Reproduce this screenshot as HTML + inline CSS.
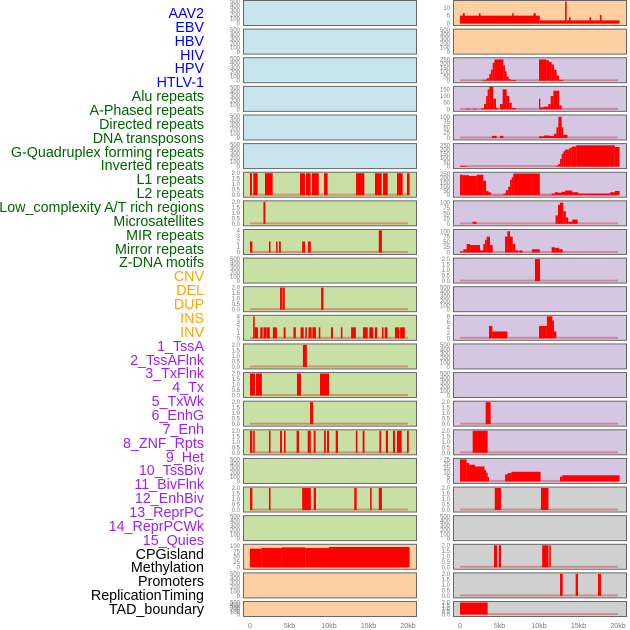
<!DOCTYPE html>
<html><head><meta charset="utf-8">
<style>
body{margin:0;background:#fff;width:630px;height:630px;overflow:hidden;font-family:"Liberation Sans",sans-serif}
#lab{position:absolute;left:0;top:0;width:204px}
.l{position:absolute;right:0;font-size:14.3px;line-height:14px;white-space:nowrap}
</style></head><body>
<div id="lab"></div>
<svg id="s" width="630" height="630" style="position:absolute;left:0;top:0"></svg>
<script>
const labels=["AAV2","EBV","HBV","HIV","HPV","HTLV-1","Alu repeats","A-Phased repeats","Directed repeats","DNA transposons","G-Quadruplex forming repeats","Inverted repeats","L1 repeats","L2 repeats","Low_complexity A/T rich regions","Microsatellites","MIR repeats","Mirror repeats","Z-DNA motifs","CNV","DEL","DUP","INS","INV","1_TssA","2_TssAFlnk","3_TxFlnk","4_Tx","5_TxWk","6_EnhG","7_Enh","8_ZNF_Rpts","9_Het","10_TssBiv","11_BivFlnk","12_EnhBiv","13_ReprPC","14_ReprPCWk","15_Quies","CPGisland","Methylation","Promoters","ReplicationTiming","TAD_boundary"];
const labelColors=["#0000ff","#0000ff","#0000ff","#0000ff","#0000ff","#0000ff","#006400","#006400","#006400","#006400","#006400","#006400","#006400","#006400","#006400","#006400","#006400","#006400","#006400","#ffa500","#ffa500","#ffa500","#ffa500","#ffa500","#a020f0","#a020f0","#a020f0","#a020f0","#a020f0","#a020f0","#a020f0","#a020f0","#a020f0","#a020f0","#a020f0","#a020f0","#a020f0","#a020f0","#a020f0","#000","#000","#000","#000","#000"];
const xTicks=[0,5,10,15,20];
const xTickLabels=["0","5kb","10kb","15kb","20kb"];
const leftBg=["b","b","b","b","b","b","g","g","g","g","g","g","g","g","g","g","g","g","g","o","o","o"];
const rightBg=["o","o","p","p","p","p","p","p","p","p","p","p","p","p","p","p","p","y","y","y","y","y"];
const leftScale=["e","e","e","e","e","e","t2","t2","t4","e","t2","t4","t2","t2","t2","t2","e","t2","e","t100","e","e"];
const rightScale=["t14","e","t250","t150","t100","t250","t250","t100","t100","t2","e","t8","e","e","t2","t2","t25","t2","e","t2","t2","t2"];
const leftData=[[],[],[],[],[],[],
[[0,0.25,2],[0.42,0.97,2],[1.9,2.87,2],[6.33,6.96,2],[7.09,7.68,2],[7.85,8.7,2],[9.37,9.83,2],[13.42,14.47,2],[15.82,16.67,2],[16.84,17.43,2],[18.61,19.33,2],[19.87,20.2,2]],
[[1.7,1.95,2]],
[[0,0.3,2],[2.4,2.6,2],[3.3,3.5,2],[3.67,3.9,2],[6.6,6.96,2],[7.34,7.7,2],[16.3,16.7,4]],
[],
[[3.8,4.05,2],[4.1,4.4,2],[9.0,9.3,2]],
[[0.4,0.6,4],[0.6,1.0,2],[1.3,1.6,2],[1.7,2.1,2],[2.15,2.5,2],[2.9,3.4,2],[4.26,4.5,2],[5.5,5.8,2],[6.4,6.8,2],[7.0,7.2,2],[7.4,7.8,2],[7.9,8.35,2],[8.7,8.9,2],[10.25,10.5,2],[11.5,11.7,2],[12.8,13.4,2],[14.3,14.9,2],[15.1,15.6,2],[15.8,16.1,2],[16.7,16.9,2],[17.05,17.4,2],[18.35,18.9,2],[19.0,19.6,2]],
[[6.7,7.2,2]],
[[0,0.63,2],[0.76,1.5,2],[5.95,6.45,2],[8.86,10.0,2]],
[[7.6,8.0,2]],
[[0,0.3,2],[0.4,0.6,2],[2.4,2.6,2],[3.8,4.05,2],[4.3,4.5,2],[5.9,6.2,2],[7.3,7.7,2],[8.06,8.3,2],[9.37,9.6,2],[9.75,10.0,2],[10.85,11.14,2],[13.4,13.6,2],[14.26,14.5,2],[16.37,16.6,2],[17.2,17.47,2],[18.1,18.35,2],[18.6,19.2,2],[19.87,20.1,2]],
[],
[[0,0.3,2],[2.4,2.6,2],[6.6,7.7,2],[8.06,8.35,2],[13.2,13.5,2],[15.2,15.4,2],[16.3,16.7,2]],
[],
[[0,1.5,88],[1.5,4,91],[4,7,94],[7,10,91],[10,20.2,96]],
[],[]];
const rightData=[
[[0,10.1,5],[0.35,0.6,6.5],[2.4,2.6,6.5],[6.6,6.8,6.5],[9.3,9.6,6.5],[10.1,20.2,2],[13.3,13.5,14],[13.8,14.0,4],[16.4,16.6,4],[17.7,17.9,5.5]],
[],
[[2.66,3.08,5],[3.08,3.38,12],[3.38,3.71,30],[3.71,3.92,80],[3.92,4.14,130],[4.14,4.35,210],[4.35,5.49,250],[5.49,5.7,180],[5.7,5.9,110],[5.9,6.16,50],[6.16,6.41,20],[6.41,7.09,8],[10.0,10.97,250],[10.97,11.26,240],[11.26,11.6,220],[11.6,11.9,190],[11.9,12.23,130],[12.23,12.53,60],[12.53,13.08,10]],
[[0.84,1.27,5],[1.6,2.1,5],[2.66,3.04,8],[3.04,3.3,40],[3.3,3.5,100],[3.5,3.71,150],[3.71,4.22,170],[4.22,4.56,80],[4.56,4.85,10],[5.06,5.4,40],[5.4,5.9,150],[5.9,6.24,100],[6.24,6.54,50],[6.54,7.05,10],[10.0,10.17,80],[10.17,10.55,15],[10.55,11.18,20],[11.18,11.48,40],[11.48,11.82,100],[11.82,12.57,140],[12.57,12.87,30]],
[[4.05,4.64,10],[5.06,5.5,10],[10.0,10.6,8],[10.6,11.26,12],[11.26,11.9,10],[11.9,12.2,20],[12.2,12.45,50],[12.45,12.87,100],[12.87,13.08,50],[13.08,13.6,15]],
[[0,0.84,8],[12.23,12.45,10],[12.45,12.66,30],[12.66,12.87,90],[12.87,13.08,150],[13.08,13.3,180],[13.3,13.85,200],[13.85,14.15,220],[14.15,14.7,235],[14.7,19.6,250],[19.6,20.2,230]],
[[0,0.34,240],[0.34,1.14,235],[1.14,2.1,225],[2.1,2.95,240],[2.95,3.3,170],[3.3,3.6,50],[3.6,3.9,35],[3.9,5.5,5],[5.5,5.8,20],[5.8,6.1,60],[6.1,6.33,100],[6.33,6.54,180],[6.54,6.75,210],[6.75,10.1,255],[10.1,11.6,5],[11.6,12.0,20],[12.0,12.4,35],[12.4,12.87,30],[12.87,13.3,40],[13.3,14.2,55],[14.2,14.98,35],[14.98,19.0,20],[19.0,19.6,35],[19.6,20.2,50]],
[[1.6,2.1,10],[12.1,12.4,40],[12.4,12.66,90],[12.66,13.08,100],[13.08,13.4,60],[13.4,13.7,30],[13.7,14.2,10],[14.2,14.9,20]],
[[0,0.42,5],[0.42,0.84,15],[0.84,1.27,40],[1.27,2.53,35],[2.53,2.95,10],[2.95,3.17,40],[3.17,3.38,60],[3.38,3.8,75],[3.8,4.14,35],[5.7,6.0,75],[6.0,6.33,100],[6.33,6.67,75],[6.67,7.0,40],[7.0,7.4,10],[7.5,7.9,10],[9.1,10.1,15],[11.6,12.0,25],[12.0,12.57,22],[12.57,13.0,15]],
[[9.49,10.13,2]],
[],
[[3.67,4.1,4.5],[4.1,6.0,2.5],[10.0,11.0,4.5],[11.0,11.7,8],[11.7,11.9,6.5],[11.9,12.2,2.5]],
[],[],
[[3.25,3.88,2]],
[[1.6,3.5,2]],
[[0,0.84,25],[0.84,1.14,21],[1.14,1.9,19],[1.9,3.1,17],[3.1,3.3,13],[3.3,3.5,10],[3.5,3.67,5],[5.7,6.0,8],[6.0,6.5,9.5],[6.5,10.2,11],[12.66,12.95,5.5],[12.95,20.2,7]],
[[4.4,5.2,2],[10.25,11.2,2]],
[],
[[4.3,4.7,2],[4.9,5.2,2],[10.4,11.2,2],[11.3,11.5,2]],
[[12.66,13.0,2],[14.64,14.94,2],[17.47,17.85,2]],
[[0,3.5,2]]];
const bgColors={b:"#c8e4ec",g:"#c8e0a4",o:"#fecfa0",p:"#d5c6e2",y:"#d0d0d0"};
const scales={e:[500,[0,100,200,300,400,500],0],t2:[2,[0,0.5,1,1.5,2],1],t4:[4,[0,1,2,3,4],0],t8:[8,[0,2,4,6,8],0],t14:[14,[0,5,10],0],t25:[25,[0,5,10,15,20,25],0],t100:[104,[0,25,50,75,100],0],t150:[165,[0,50,100,150],0],t250:[258,[0,50,100,150,200,250],0]};
const NS="http://www.w3.org/2000/svg";
const svg=document.getElementById('s');
function mk(t,a,p){const e=document.createElementNS(NS,t);for(const k in a)e.setAttribute(k,a[k]);(p||svg).appendChild(e);return e;}
const lab=document.getElementById('lab');
labels.forEach((t,i)=>{const d=document.createElement('div');d.className='l';d.style.top=(15+i*13.86-8)+'px';d.style.color=labelColors[i];d.textContent=t;


lab.appendChild(d);});
function panel(col,k,bg,sc,data){
  const top=k*28.62, h=(k==21?15:25);
  const x0=col?453:243, xz=col?460:250;
  const xs=v=>xz+v/20*158;
  const [ymax,ticks,dec]=scales[sc];
  const yb=top+h-1.5, yt=top+1.5;
  const ys=v=>yb-(v/ymax)*(yb-yt);
  const g=mk('g',{});
  
  
  mk('rect',{x:x0+0.5,y:top+0.5,width:173,height:h,fill:bgColors[bg],stroke:"#666","stroke-width":1},g);
  ticks.forEach(t=>{const tx=mk('text',{x:x0-3,y:ys(t)+2,"font-size":6,fill:"#777","text-anchor":"end"},g);tx.textContent=dec?t.toFixed(1):String(t);
  
  });
  if(data.length){
    const bl=mk('rect',{x:xs(0),y:yb-1.5,width:xs(20)-xs(0),height:2,fill:"rgba(200,60,60,0.45)"},g);
    
    
  }
  data.forEach(d=>{const y=ys(d[2]);const r=mk('rect',{x:xs(d[0]),y:y,width:Math.max(1,xs(d[1])-xs(d[0])),height:yb-y,fill:"#ff0000"},g);
  
  });
}
for(let k=0;k<22;k++){panel(0,k,leftBg[k],leftScale[k],leftData[k]);panel(1,k,rightBg[k],rightScale[k],rightData[k]);}
[250,460].forEach(xz=>{xTicks.forEach((v,i)=>{const t=mk('text',{x:xz+v/20*158,y:628,"font-size":7,fill:"#777","text-anchor":"middle"});t.textContent=xTickLabels[i];

});});
</script>
</body></html>
